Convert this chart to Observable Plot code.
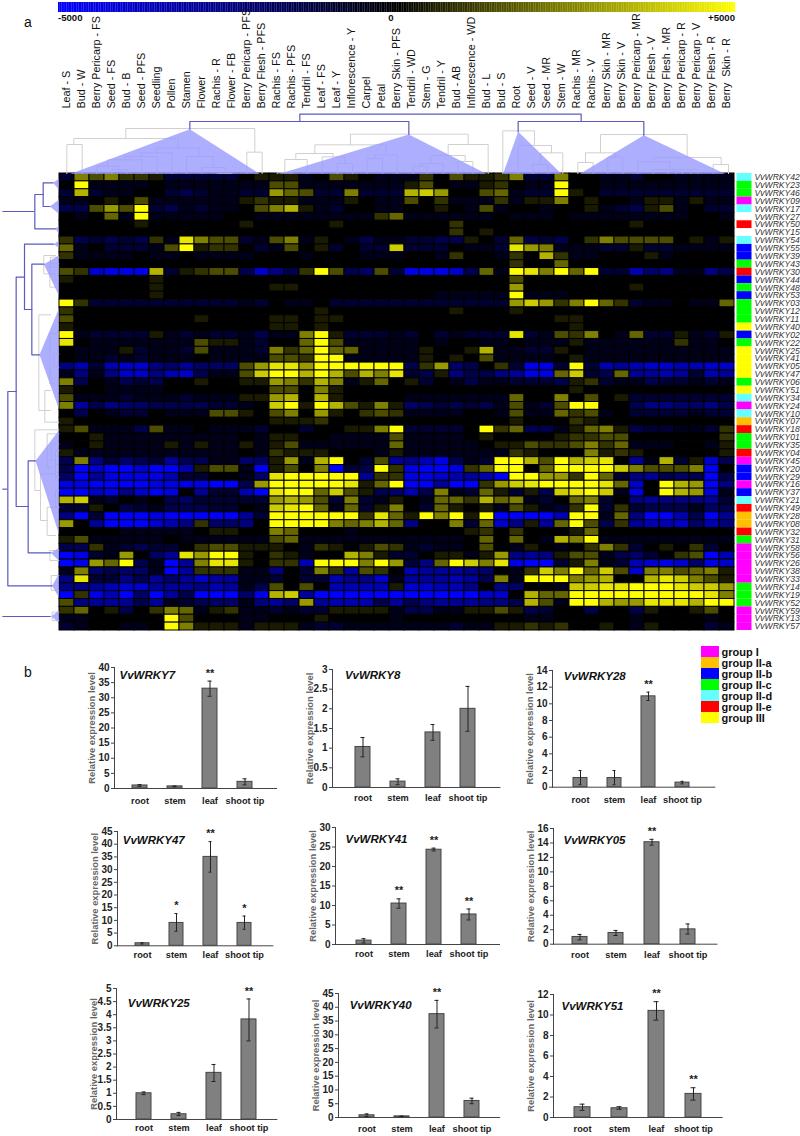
<!DOCTYPE html>
<html><head><meta charset="utf-8">
<script src="https://cdn.jsdelivr.net/npm/d3@7"></script>
<script src="https://cdn.jsdelivr.net/npm/@observablehq/plot@0.6"></script>
<style>
html,body{margin:0;padding:0;background:#fff}
#page{position:relative;width:800px;height:1136px;overflow:hidden;font-family:"Liberation Sans",Arial,sans-serif}
#page>*{position:absolute}
.tag{font-size:14px;color:#111}
</style></head><body><div id="page"></div>
<script>
const tissues=["Leaf - S","Bud - W","Berry Pericarp - FS","Seed - FS","Bud - B","Seed - PFS","Seedling","Pollen","Stamen","Flower","Rachis - R","Flower - FB","Berry Pericarp - PFS","Berry Flesh - PFS","Rachis - FS","Rachis - PFS","Tendril - FS","Leaf - FS","Leaf - Y","Inflorescence - Y","Carpel","Petal","Berry Skin - PFS","Tendril - WD","Stem - G","Tendril - Y","Bud - AB","Inflorescence - WD","Bud - L","Bud - S","Root","Seed - V","Seed - MR","Stem - W","Rachis - MR","Rachis - V","Berry Skin - MR","Berry Skin - V","Berry Pericarp - MR","Berry Flesh - V","Berry Flesh - MR","Berry Pericarp - R","Berry Pericarp - V","Berry Flesh - R","Berry  Skin - R"];
const genes=["42","23","46","09","17","27","50","15","54","55","39","43","30","44","48","53","03","12","11","40","02","22","25","41","05","47","06","51","34","24","10","07","18","01","35","04","45","20","29","16","37","21","49","28","08","32","31","58","56","26","38","33","14","19","52","59","13","57"].map(d=>"VvWRKY"+d);
const geneGroups=["d","c","c","I","d","","e","","d","b","b","c","e","b","c","b","c","c","c","III","b","c","III","III","III","III","c","III","d","I","d","a","e","c","c","e","I","b","b","I","b","d","e","a","a","e","c","I","I","I","I","I","c","c","c","I","I","I"];
const groupColors={I:"#ff00ff",a:"#ffc000",b:"#0000ff",c:"#00ff00",d:"#66ffff",e:"#ff0000",III:"#ffff00","":"#ffffff"};
const groupNames=["group I","group II-a","group II-b","group II-c","group II-d","group II-e","group III"];
const groupKeys=["I","a","b","c","d","e","III"];
// expression in units of 500 (±10 = ±5000), first 23 tissues
const heatLeft=[
[-2,5,3,5,2,2,1,-2,-2,-2,-2,-2,0,1,1,1,-1,0,3,1,0,-1,-1],
[0,10,-1,-1,-1,-1,0,-1,-1,-1,-1,-1,-1,-1,3,3,-1,-1,-1,-1,-1,-1,-1],
[-2,7,-2,-1,-1,0,0,-2,-3,-2,-1,-1,-2,-2,6,4,3,-2,-2,5,-2,-2,-2],
[-1,-1,0,1,0,3,-1,-1,-1,-1,-1,-1,1,2,1,1,-1,-1,-1,1,0,-1,-1],
[-3,-3,3,6,3,10,-2,-3,-1,-2,-1,-1,0,3,5,7,1,-1,-2,0,0,-1,-1],
[0,-1,0,4,-1,10,-1,-1,-1,-1,-1,0,0,-1,-1,-1,-1,-1,-1,-1,-1,2,4],
[0,0,0,0,0,1,0,0,0,0,0,0,1,0,0,0,0,0,1,0,0,0,0],
[0,0,0,0,0,0,0,0,0,0,0,0,0,0,0,0,0,0,0,0,0,0,0],
[2,-3,-2,-3,-2,-3,2,-1,9,5,3,3,-2,-1,3,5,-1,1,0,-1,-3,-1,-1],
[4,-1,0,-2,-2,-2,-1,3,10,1,2,2,0,-2,-1,3,0,1,-2,0,-2,-2,8],
[2,-1,-1,-1,-1,0,-1,-1,0,-1,-1,-1,-1,0,0,0,-1,0,0,0,-1,-1,-1],
[0,0,0,0,0,0,0,0,0,0,0,0,0,0,0,0,0,0,0,0,0,0,0],
[3,2,-8,-9,-9,-9,7,-2,1,2,3,3,-3,-8,-5,-3,2,10,3,-3,-4,3,-2],
[1,0,0,0,0,0,1,0,0,0,0,0,0,0,0,0,0,0,0,0,0,0,0],
[0,0,0,0,0,0,1,0,0,0,0,0,0,0,1,1,0,0,0,0,0,0,0],
[0,0,0,0,0,0,1,0,0,0,0,0,0,0,0,0,0,0,0,0,0,0,0],
[10,2,-2,-2,-2,-2,-2,-2,-2,-2,-2,-2,-1,-2,0,-1,-1,0,-2,-2,-2,-2,-2],
[2,0,0,0,0,0,0,0,0,0,0,0,0,0,0,0,0,1,0,0,0,0,0],
[3,0,0,0,0,0,0,0,0,1,0,0,0,0,1,1,0,1,1,0,0,0,0],
[1,0,0,0,0,0,0,0,0,0,0,0,0,0,1,1,0,1,0,0,0,0,0],
[10,-1,-2,-2,-2,-2,1,-1,-2,-1,-2,-2,-1,-3,-1,-1,5,10,1,-2,-2,-2,-1],
[9,0,-1,-1,-1,-1,-1,-1,-1,3,1,1,-1,-2,0,0,4,10,3,-1,-1,-1,-1],
[0,-1,-1,-1,1,-2,-1,-1,-2,3,-1,-1,-1,-2,5,2,4,10,4,4,-1,-1,-1],
[0,-1,-1,-2,-1,-2,-1,-1,-1,0,-1,-1,-1,-1,3,3,2,10,10,-1,-1,-1,-1],
[-5,-7,-2,-7,-8,-8,-5,-4,-6,-4,-4,-4,3,6,9,9,6,10,10,10,10,10,10],
[-1,-5,-1,-5,-8,-8,-5,-7,-8,-3,-1,-1,3,8,10,10,7,10,7,3,7,5,9],
[5,-3,0,-1,-3,-2,-3,0,0,1,0,0,1,1,6,5,2,7,5,-1,1,4,0],
[1,0,0,-1,-1,-1,-1,0,0,0,0,0,0,0,3,3,0,5,1,0,0,0,0],
[3,-1,-1,-1,-2,-1,-1,-1,-2,-1,-1,-1,1,1,6,7,0,7,1,0,0,0,0],
[5,-6,-3,-5,-4,-4,-3,-3,-3,-3,-2,-2,-1,0,8,10,1,10,7,3,1,5,1],
[0,-3,0,-1,-2,-2,0,-1,-1,-1,3,3,1,0,3,5,0,6,1,0,2,3,2],
[1,0,0,0,0,0,0,0,0,0,0,0,0,0,1,1,1,2,0,0,0,0,0],
[1,3,-1,-1,-1,-3,3,-1,-1,0,-1,-1,-1,-2,0,0,-2,0,0,1,1,5,10],
[0,0,1,-1,-1,-1,-1,-1,-1,-1,-1,-1,0,-1,1,1,0,0,-1,-1,-1,-1,3],
[-1,0,1,-1,-1,-1,-1,1,-1,1,-1,-1,1,-1,1,3,-1,-1,-1,-1,-1,-1,4],
[1,-1,-1,-1,-1,-1,-1,-1,-1,-1,-1,-1,0,-1,2,1,1,1,0,0,0,-1,1],
[-3,5,-5,-2,-4,-3,-2,-6,-3,-3,-1,-1,-4,-4,1,6,-1,7,10,0,-2,3,-6],
[-3,-10,-8,-10,-10,-8,-10,-10,-7,1,3,3,-1,-10,1,3,0,5,-10,-2,-3,10,2],
[-4,-10,-6,-9,-9,-9,-9,-7,-2,-2,0,0,-1,-4,9,10,10,10,10,10,-6,2,2],
[-9,-9,-10,-10,-10,-10,-9,-9,-9,-9,-10,-10,-3,6,10,10,10,10,10,9,1,4,10],
[-10,-10,-8,-9,-5,-8,-10,-9,0,-6,-2,-2,-7,-10,9,10,10,4,8,3,1,-3,-4],
[7,8,-1,-2,0,-1,0,-3,-4,-2,-2,-2,-2,-2,6,7,6,3,-2,5,-2,-1,1],
[-2,-2,1,0,-3,-2,-1,-3,-3,-3,-2,-2,0,-1,8,9,10,4,-1,4,-2,1,5],
[-5,-10,-2,-10,-10,-10,-9,-10,-10,-10,-10,-10,-6,-2,10,10,10,10,10,10,2,9,4],
[6,0,-6,-10,-10,-10,-8,-7,-5,2,-4,-4,-5,0,10,10,10,10,5,4,5,7,4],
[0,0,0,0,-1,-1,-1,-1,-1,0,1,1,0,0,5,4,0,0,0,-1,0,0,0],
[1,3,-1,-1,-1,-1,-1,0,-1,-1,-1,-1,-1,-1,3,4,-1,-1,-1,-1,-1,-1,-1],
[-3,-3,2,-1,-2,-3,-2,-2,0,2,3,3,1,1,1,0,-1,2,1,0,1,3,2],
[-10,-9,-2,-1,6,0,-4,-6,9,6,10,10,1,0,2,1,-1,0,0,7,5,1,-2],
[-10,-9,6,4,10,-3,-1,-10,-6,5,9,9,1,0,2,2,-7,10,10,10,5,10,6],
[-1,5,-4,-3,-4,-4,-1,-10,-6,2,2,2,-1,-1,-5,0,-2,5,2,-6,3,2,0],
[-5,9,-2,-2,-5,-3,-6,-4,-6,-8,-6,-6,-1,-1,-2,0,-2,-2,-7,-5,-5,-8,-1],
[-5,-5,-6,-7,-8,-8,-6,-6,-6,-5,-7,-6,-1,-3,3,0,3,0,-7,-7,-7,-7,1],
[-10,2,-9,-7,-10,-4,-10,-6,-3,-10,-10,-10,-4,-9,7,8,-6,-10,-10,-10,-10,-10,-10],
[3,-5,-6,-6,-6,-3,-6,-1,-2,-3,-4,-4,-1,-5,-6,-4,6,-6,-7,-7,-7,-3,-6],
[2,4,0,1,-3,0,2,5,4,-1,1,2,-1,-1,-2,-1,-2,-2,1,1,1,1,-1],
[-1,-1,0,0,0,0,0,10,3,0,0,0,-1,-1,0,0,0,1,0,0,0,0,-1],
[-2,-1,0,0,-1,-1,0,10,5,1,1,1,-1,1,1,1,-1,-2,-2,-1,-1,-1,-1]];
// the remaining 22 tissues
const heatRight=[
[-1,2,0,3,1,1,2,5,-2,-2,5,0,0,-1,-1,-2,0,0,-1,-1,-1,-1],
[1,3,0,-1,-1,1,2,0,-1,-1,10,0,0,-1,-1,-1,-1,-1,-1,-1,-1,-1],
[7,8,6,0,0,3,4,-1,-2,-2,10,1,0,-2,-2,-2,-2,-2,-2,-2,-2,-2],
[3,0,2,-1,-1,-1,2,-1,1,1,5,0,1,0,0,-1,1,1,-1,1,-1,-1],
[0,0,1,0,-1,3,-1,0,0,-1,0,0,1,-1,-2,-3,1,3,-1,0,-2,-2],
[-1,-1,-1,-1,-1,-1,0,-1,-1,-1,0,-1,-1,-1,-1,-1,-1,-1,-1,0,0,-1],
[0,0,0,2,0,0,0,0,0,0,0,0,0,0,0,1,0,0,0,0,0,0],
[0,0,0,2,0,1,0,0,0,0,0,0,0,0,0,0,0,0,0,0,0,0],
[-2,-2,-3,-3,1,0,-2,4,-3,-2,-3,0,2,5,3,3,3,3,0,1,-1,1],
[-2,-2,-2,0,-1,-1,-2,9,6,5,-1,-1,-1,-2,-2,1,-2,-2,-1,-1,-1,-1],
[0,0,-1,2,0,0,-1,2,0,7,2,-1,-1,0,0,0,1,-1,0,0,0,0],
[0,0,0,0,0,0,0,2,0,0,4,0,0,0,0,0,0,0,0,0,0,0],
[-9,-9,-9,-8,-3,4,-1,10,9,5,10,4,10,-2,-2,-7,-4,-5,-1,-1,-5,-3],
[0,0,0,0,0,0,0,3,0,0,0,0,0,0,0,0,0,0,0,0,0,0],
[0,0,0,0,0,0,0,6,0,0,0,0,0,0,0,1,0,0,0,0,0,0],
[0,0,-1,-1,-1,-1,-1,10,-1,-1,-1,0,0,0,0,0,0,0,0,0,0,0],
[-2,-2,-2,-2,-2,-2,-2,6,8,6,2,5,10,4,2,-2,-1,-1,0,-1,-1,4],
[0,0,0,1,0,0,0,1,0,0,0,0,0,0,0,0,0,0,0,0,0,0],
[0,0,0,0,0,0,0,0,0,0,1,1,0,0,0,0,0,0,0,0,0,0],
[0,0,0,0,0,0,0,0,0,0,0,1,0,0,0,0,0,0,0,0,0,0],
[-2,0,-2,-1,-2,-2,-2,9,-2,-1,3,2,5,0,-1,4,-2,-2,1,-1,-2,1],
[-1,0,-1,0,0,-1,-1,0,-1,-1,-1,1,-1,-1,-1,-1,-1,-1,2,-1,-1,0],
[-1,1,0,0,1,7,-1,-1,-2,-2,1,0,-1,-1,-1,-1,-1,-1,-1,-1,-1,-1],
[-1,1,0,1,0,3,-1,-1,-1,-1,0,1,-1,-1,-1,-1,-1,-1,-1,-1,-1,-1],
[-3,2,6,-4,-3,0,2,-2,-9,-9,-2,10,-2,-7,-6,-7,-8,-8,-7,-7,-8,-8],
[-2,-3,1,-5,-3,-3,-5,-6,-9,-9,4,8,-2,-3,4,-6,-6,-7,-6,-2,-7,-6],
[1,-2,0,-1,-3,-1,-1,-2,-2,-2,-3,1,2,-2,-1,-1,-3,-2,-2,-1,-2,-1],
[0,0,0,0,0,0,0,0,0,0,0,1,0,0,0,0,0,0,0,0,0,0],
[-1,-1,-1,-1,-1,-1,-1,4,0,0,5,0,3,0,1,-2,-2,-2,-2,-2,-2,-2],
[-4,-3,-2,-3,-2,-3,-1,3,-1,-2,3,10,10,0,0,-3,-5,-5,-4,-4,-5,-3],
[-1,-1,-1,-1,0,0,-1,3,-1,-1,4,2,3,-1,0,-2,-2,-2,-2,-1,-2,-2],
[0,0,0,0,0,0,0,1,0,0,0,2,1,0,0,0,0,0,0,0,0,0],
[-2,-2,-2,-2,0,10,2,4,-3,-3,-1,1,4,5,1,-3,-2,-2,-1,-1,-2,2],
[-1,-1,-1,-1,0,1,0,0,0,0,1,2,2,3,3,0,0,0,0,0,0,2],
[-1,-1,-1,-1,-1,0,1,1,3,2,2,3,5,2,4,-1,-1,-1,0,0,-1,1],
[-1,-1,-1,-1,-1,-1,-1,2,1,0,0,0,5,1,2,1,0,0,0,0,0,1],
[-5,-7,-9,-3,-1,-2,10,10,7,3,10,7,8,9,0,-6,-1,7,-2,1,-8,-3],
[-9,-10,-10,-9,2,4,10,10,0,4,10,10,10,10,8,5,3,3,3,5,-10,0],
[-9,-9,-8,-7,-6,-7,-10,10,10,6,6,2,10,4,-2,-5,-6,-3,-4,-3,-10,-3],
[-10,-10,-6,-10,-10,2,6,8,9,10,10,10,10,9,4,-8,0,10,7,6,-10,-5],
[-7,-3,5,-1,-2,4,1,-2,1,-3,8,9,10,8,-1,-9,0,10,7,6,-9,-1],
[0,-1,4,4,2,7,4,5,-1,-2,0,4,5,-2,0,-5,-6,-5,-5,-5,-6,-2],
[0,-2,4,1,0,1,-1,3,1,-1,-2,2,10,-2,2,-2,-3,-3,-3,-1,-4,-3],
[1,10,5,10,1,10,-10,-10,-10,-10,-7,10,10,-1,4,-5,-10,-10,-7,-3,-10,-6],
[-5,0,0,5,-2,4,-8,-5,1,-6,4,10,3,-3,2,-6,-7,-7,-8,-4,-7,-5],
[0,0,0,0,1,2,0,2,0,0,0,1,4,0,0,0,0,0,0,0,0,0],
[-1,-1,-1,-1,0,4,0,4,0,-1,7,5,10,-1,-1,-1,-1,-1,-1,-1,-1,-1],
[-1,-2,-1,-1,0,3,0,-1,1,0,-1,0,2,5,2,-2,0,1,0,2,-2,0],
[-2,0,1,1,-1,1,6,-5,-6,-5,1,3,3,-1,-3,-4,-2,0,2,3,-10,-7],
[-2,-5,4,10,8,5,9,-9,-10,-10,-2,1,5,-1,-2,-7,-8,-9,-8,-4,-9,-8],
[-7,-6,-6,-6,-5,-4,0,-1,2,8,5,10,4,8,3,-8,5,5,3,4,5,1],
[-6,-6,-6,-7,-6,-3,5,-1,10,10,10,5,6,7,0,0,7,9,8,5,3,1],
[-8,-8,-7,-7,-5,0,-5,-4,0,0,-1,8,8,9,9,10,10,10,9,8,8,6],
[-10,-10,-10,-10,-10,-8,-8,0,7,4,4,10,10,10,10,10,10,10,10,10,9,5],
[-3,-5,-6,-6,-6,-5,-5,-3,7,3,-1,10,10,7,6,6,9,9,9,7,10,10],
[-3,-3,-1,-1,1,1,3,1,-3,-2,0,0,-3,0,0,-3,1,0,0,1,3,0],
[0,0,0,0,0,0,0,0,-1,-1,0,0,0,0,0,-1,0,0,0,0,-1,0],
[-1,-1,-1,-2,-1,-1,1,1,2,1,2,0,0,1,0,-1,1,0,0,0,-2,-1]];
const barCategories=["root","stem","leaf","shoot tip"];
const barGenes=["VvWRKY7","VvWRKY8","VvWRKY28","VvWRKY47","VvWRKY41","VvWRKY05","VvWRKY25","VvWRKY40","VvWRKY51"];
const barValues=[[1,0.7,33,2.2],[1.03,0.15,1.4,2],[1.1,1.1,10.9,0.55],[1,9,35,9],[1,10.5,24.3,7.7],[1,1.55,14.1,2.05],[1,0.2,1.78,3.82],[0.8,0.4,37.5,6],[1,0.9,10.4,2.3]];
const barLow=[[0.7,0.6,30.5,1.2],[0.78,0.07,1.2,1.43],[0.3,0.3,10.4,0.4],[0.7,5.7,29,6.5],[0.4,9.3,24,6.3],[0.6,1.2,13.7,1.4],[0.95,0.15,1.45,3],[0.3,0.3,32.5,5],[0.7,0.8,9.5,1.7]];
const barHigh=[[1.3,0.8,35.5,3.2],[1.27,0.22,1.6,2.57],[2,2,11.4,0.7],[1.2,12.7,41,11.7],[1.5,11.7,24.7,9.1],[1.35,1.9,14.5,2.8],[1.05,0.27,2.1,4.6],[1.3,0.5,42.5,7],[1.3,1.05,11.3,2.9]];
const barStars=[["","","**",""],["","","",""],["","","**",""],["","*","**","*"],["","**","**","**"],["","","**",""],["","","","**"],["","","**",""],["","","**","**"]];
const barTicks=[[0,5,10,15,20,25,30,35,40],[0,0.5,1,1.5,2,2.5,3],[0,2,4,6,8,10,12,14],[0,5,10,15,20,25,30,35,40,45],[0,5,10,15,20,25,30],[0,2,4,6,8,10,12,14,16],[0,0.5,1,1.5,2,2.5,3,3.5,4,4.5,5],[0,5,10,15,20,25,30,35,40,45],[0,2,4,6,8,10,12]];
// clustering trees: merge brackets [pos1,pos2,level,leg1,leg2]
const topGrey=[[199,245,430,520,520],[376,763,382,412,453],[220,533,412,430,440],[739,785,453,520,520],[467,598,441,455,466],[420,515,455,465,520],[373,470,466,475,520],[322,425,476,495,520],[289,356,495,520,505],[334,380,505,520,520],[558,638,466,520,499],[604,674,499,520,517],[650,695,517,520,520],[1050,1403,399,431,430],[943,1157,431,457,461],[886,998,457,475,467],[853,920,475,515,520],[830,875,515,520,520],[965,1033,467,520,487],[1010,1056,487,520,520],[1100,1146,472,520,520],[1124,1190,461,472,520],[1343,1463,430,463,520],[1291,1394,463,487,481],[1258,1328,487,495,520],[1238,1280,495,520,520],[1372,1417,481,520,520],[1507,1602,389,520,433],[1553,1653,433,520,455],[1597,1643,490,520,520],[1620,1687,455,490,520],[1800,2060,400,455,469],[1755,1845,455,484,468],[1732,1778,484,520,520],[1822,1867,468,520,520],[1912,2008,482,520,505],[1960,2162,469,482,490],[2138,2184,490,520,520],[1957,2092,505,520,520],[2002,2046,512,520,520],[2026,2070,505,520,520]];
const topBlue=[[898,1742,339,361,361],[568,1225,361,384,400],[1553,1930,361,392,402]];
const topClusters=[[568,384,205,780],[1225,400,830,1462],[1553,392,1507,1685],[1930,402,1735,2178]];
const sideGrey=[[765,820,130,165,165],[770,800,150,175,175],[790,860,148,175,165],[943,1230,115,150,150],[1170,1265,133,150,175],[1000,1150,148,175,160],[1060,1100,160,175,175],[1288,1470,103,175,120],[1300,1400,140,175,152],[1330,1380,152,175,165],[1420,1560,120,160,140],[1520,1605,140,175,165],[1350,1430,165,175,175],[1470,1520,165,175,175],[1650,1680,148,175,175],[1725,1770,152,175,175],[1835,1860,155,175,175]];
const sideBlue=[[582,685,103,128,165],[547,618,128,158,148],[731,927,72,160,94],[791,1063,94,130,117],[830,1518,47,72,83],[1173,1756,22,47,155],[1381,1657,83,105,150]];
const sideStubs=[[633,7,103],[1466,7,22],[1848,7,152]];
const sideClusters=[[158,547,535,567],[148,618,598,640],[165,685,675,700],[160,731,720,742],[130,791,765,885],[117,1063,925,1225],[105,1381,1290,1600],[150,1657,1643,1680],[155,1756,1720,1790],[152,1848,1830,1865]];

const page=document.getElementById("page");
const font='"Liberation Sans",Arial,sans-serif';
function place(el,left,top){el.style.left=left+"px";el.style.top=top+"px";page.appendChild(el);return el;}
const heatColor={type:"linear",domain:[-5000,0,5000],range:["#0000ff","#000000","#ffff00"]};

const heatCells=genes.flatMap((g,i)=>tissues.map((t,j)=>({gene:g,tissue:t,v:500*(j<23?heatLeft[i][j]:heatRight[i][j-23])})));
const rowsTable=genes.map((g,i)=>({gene:g,group:groupColors[geneGroups[i]]}));

// colour bar
place(Plot.plot({width:800,height:14,marginLeft:58,marginRight:65,marginTop:2,marginBottom:2,style:{background:"transparent"},
  x:{domain:[-5000,5000],axis:null},y:{axis:null,domain:[0,1]},color:heatColor,
  marks:[Plot.rect(d3.range(-5000,5000,25),{x1:d=>d,x2:d=>d+27,y1:0,y2:1,fill:d=>d+12})]}),0,0);
// heat map
place(Plot.plot({width:800,height:631,marginLeft:58,marginRight:50,marginTop:173,marginBottom:1,
  style:{background:"transparent",fontFamily:font},
  x:{domain:[...tissues,"group"],padding:0,axis:null},
  y:{domain:genes,padding:0,axis:null},
  color:heatColor,
  marks:[
    Plot.axisX(tissues,{anchor:"top",tickSize:0,tickPadding:65,tickRotate:-90,fontSize:10.8,fill:"#111",label:null}),
    Plot.axisY(genes,{anchor:"right",tickSize:0,tickPadding:4,fontSize:8.6,fontStyle:"italic",fill:"#333",label:null}),
    Plot.cell(heatCells,{x:"tissue",y:"gene",fill:"v",stroke:"#000",strokeWidth:1}),
    Plot.cell(rowsTable,{x:()=>"group",y:"gene",fill:{value:"group",scale:null},dx:2.5})
  ]}),0,0);
// legend tick labels
[["-5000",58,"left"],["0",391,"center"],["+5000",735,"right"]].forEach(([t,x,a])=>{
  const d=document.createElement("div");d.textContent=t;
  d.style.cssText=`font:bold 9.6px ${font};color:#111;width:60px;text-align:${a}`;
  place(d,a==="left"?x:a==="right"?x-60:x-30,12);
});
// column tree
function topPaths(list){return list.flatMap((b,i)=>[[b[0],b[3]],[b[0],b[2]],[b[1],b[2]],[b[1],b[4]]].map(p=>({x:p[0],y:p[1],z:i})));}
function triPaths(list){return list.flatMap((b,i)=>[[b[0],b[1]],[b[2],520],[b[3],520]].map(p=>({x:p[0],y:p[1],z:i})));}
place(Plot.plot({width:800,height:74,margin:0,style:{background:"transparent"},
  x:{domain:[0,2400],range:[0,800],axis:null},y:{domain:[520,298],range:[74,0],axis:null},
  marks:[
    Plot.line(topPaths(topGrey),{x:"x",y:"y",z:"z",stroke:"#d0d0d0",strokeWidth:1,curve:"linear"}),
    Plot.line(triPaths(topClusters),{x:"x",y:"y",z:"z",fill:"#9a9aff",fillOpacity:0.8,stroke:"none"}),
    Plot.line(topPaths(topBlue),{x:"x",y:"y",z:"z",stroke:"#5a5abf",strokeWidth:1.2})
  ]}),0,99.6);
// gene tree
function sidePaths(list){return list.flatMap((b,i)=>[[b[3],b[0]],[b[2],b[0]],[b[2],b[1]],[b[4],b[1]]].map(p=>({x:p[0],y:p[1],z:i})));}
function sideTri(list){return list.flatMap((b,i)=>[[b[0],b[1]],[175,b[2]],[175,b[3]]].map(p=>({x:p[0],y:p[1],z:i})));}
place(Plot.plot({width:60,height:460,margin:0,style:{background:"transparent"},
  x:{domain:[0,180],range:[0,60],axis:null},y:{domain:[510,1890],range:[0,460],axis:null},
  marks:[
    Plot.line(sidePaths(sideGrey),{x:"x",y:"y",z:"z",stroke:"#d0d0d0",strokeWidth:1}),
    Plot.line(sideTri(sideClusters),{x:"x",y:"y",z:"z",fill:"#9a9aff",fillOpacity:0.8,stroke:"none"}),
    Plot.line(sidePaths(sideBlue),{x:"x",y:"y",z:"z",stroke:"#5a5abf",strokeWidth:1.2}),
    Plot.ruleY(sideStubs,{y:d=>d[0],x1:d=>d[1],x2:d=>d[2],stroke:"#5a5abf",strokeWidth:1.2})
  ]}),0,170);
// group legend
place(Plot.plot({width:99,height:80,margin:0,style:{background:"transparent",fontFamily:font},
  x:{domain:[0,1],range:[0,18],axis:null},y:{domain:groupNames,padding:0,axis:null},
  marks:[
    Plot.barX(groupNames,{y:d=>d,x1:0,x2:1,fill:{value:(d,i)=>groupColors[groupKeys[i]],scale:null}}),
    Plot.text(groupNames,{y:d=>d,x:1,text:d=>d,dx:2,textAnchor:"start",fontSize:11,fontWeight:"bold",fill:"#111"})
  ]}),701,644);
// bar panels: axis x0,x1, axis top and zero, first and last bar centre, title x,y, label offset
const panelBoxes=[
 [114,276,667,788,131.5,252,119,676,12],[331.6,499,669,787,354,475,344,676,10],[551.7,714,670,786.7,571,691,563,677,12],
 [116.7,272,830.7,945,133,252,122,841,9],[335,499,826.7,943.7,354.6,477,345,840,9],[553,716.5,828,943.7,571,695.5,563,841,10],
 [115.7,276,987.7,1118.7,134.6,256,127,1004,8],[337.8,499,993,1117,356.7,480,349,1006,11],[553,721.6,994,1117,572.7,701.6,561,1007,11]];
barGenes.forEach((gene,k)=>{
  const [x0,x1,yT,yZ,c0,c3,tx,ty,off]=panelBoxes[k];
  const ml=50,mt=20,mb=25,mr=6;
  const step=(c3-c0)/3;
  const tbl=barCategories.map((c,i)=>({c,v:barValues[k][i],lo:barLow[k][i],hi:barHigh[k][i],s:barStars[k][i]}));
  const top=barTicks[k][barTicks[k].length-1];
  place(Plot.plot({width:x1-x0+ml+mr,height:yZ-yT+mt+mb,marginLeft:ml,marginRight:mr,marginTop:mt,marginBottom:mb,
    style:{background:"transparent",fontFamily:font},
    x:{domain:barCategories,padding:0.58,axis:null,range:[c0-step/2-x0+ml,c3+step/2-x0+ml]},
    y:{domain:[0,top],axis:null},
    marks:[
      Plot.frame({anchor:"left",stroke:"#444"}),
      Plot.frame({anchor:"bottom",stroke:"#444"}),
      Plot.axisY(barTicks[k],{anchor:"left",tickSize:3,tickPadding:2,fontSize:10,fontWeight:"bold",fill:"#222",label:null,stroke:"#444",tickFormat:d=>String(d)}),
      Plot.axisX(barCategories,{anchor:"bottom",tickSize:0,tickPadding:off-3,fontSize:9.2,fontWeight:"bold",fill:"#222",label:null}),
      Plot.text(["Relative expression level"],{frameAnchor:"left",textAnchor:"middle",rotate:-90,dx:-23,fontSize:9.4,fontWeight:"bold",fill:"#666"}),
      Plot.barY(tbl,{x:"c",y:"v",fill:"#808080",stroke:"#444",strokeWidth:1}),
      Plot.ruleX(tbl,{x:"c",y1:"lo",y2:"hi",stroke:"#222",strokeWidth:1}),
      Plot.tickY(tbl,{x:"c",y:"lo",stroke:"#222",insetLeft:5.5,insetRight:5.5}),
      Plot.tickY(tbl,{x:"c",y:"hi",stroke:"#222",insetLeft:5.5,insetRight:5.5}),
      Plot.text(tbl,{x:"c",y:"hi",text:"s",dy:-8,fontSize:11,fontWeight:"bold",fill:"#222"}),
      Plot.text([gene],{frameAnchor:"top-left",dx:tx-x0,dy:ty-yT-6,fontSize:11.5,fontWeight:"bold",fontStyle:"italic",fill:"#111",textAnchor:"start"})
    ]}),x0-ml,yT-mt);
});
// panel tags
[["a",24,14],["b",24,664]].forEach(([t,x,y])=>{const d=document.createElement("div");d.className="tag";d.textContent=t;place(d,x,y);});
</script></body></html>
